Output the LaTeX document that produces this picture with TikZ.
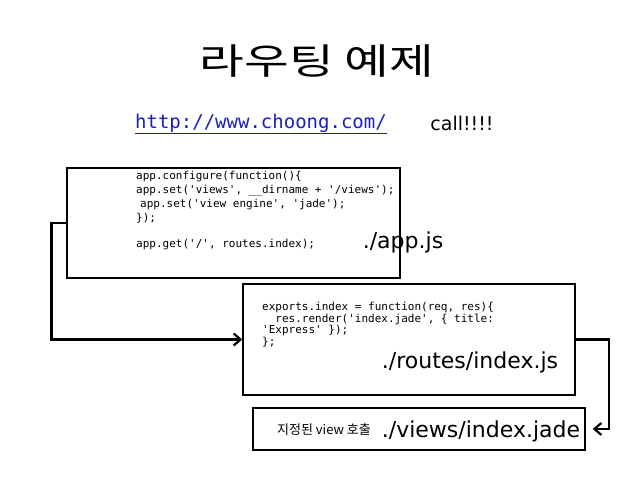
\documentclass[tikz,border=0pt]{standalone}
\usepackage{fontspec}
\usetikzlibrary{arrows.meta}
\newfontfamily\krfont{Noto Sans CJK KR}
\newfontfamily\krtitle[FakeStretch=1.35]{Noto Sans CJK KR}
\newfontfamily\codefont{DejaVu Sans Mono}
\newfontfamily\handfont{DejaVu Sans}
\newfontfamily\urlfont{DejaVu Sans Mono}
\definecolor{urlblue}{RGB}{30,30,190}
\begin{document}
\begin{tikzpicture}[x=1pt, y=1pt,
  codebox/.style={draw, line width=1.4pt, inner sep=0pt},
  code/.style={anchor=north west, align=left, inner sep=0pt},
  fname/.style={inner sep=0pt, font=\fontsize{22}{24}\handfont},
  conn/.style={line width=2.4pt, -{Straight Barb[length=7pt, width=12pt, line width=2.2pt]}}]
\useasboundingbox (0,0) rectangle (638,479);
\node[inner sep=0pt, font=\fontsize{36}{40}\krtitle] (title) at (317,418) {라우팅 예제};
\node[inner sep=0pt, text=urlblue, font=\fontsize{19}{22}\urlfont] (url) at (261,355) {\underline{http://www.choong.com/}};
\node[inner sep=0pt, font=\fontsize{19}{22}\handfont] (call) at (462,356) {call!!!!};
% boxes
\node[codebox, minimum width=333pt, minimum height=110pt] (app) at (233.5,256) {};
\node[codebox, minimum width=332pt, minimum height=111pt] (routes) at (409,139.5) {};
\node[codebox, minimum width=332pt, minimum height=42pt] (views) at (419,50) {};
% code
\node[code, font=\fontsize{11}{14}\codefont] (appcode) at (136,308.5) {app.configure(function()\{\\app.set('views', \_\_dirname + '/views');\\\hspace*{4pt}app.set('view engine', 'jade');\\\});\\[12pt]app.get('/', routes.index);};
\node[code, font=\fontsize{11}{11.7}\codefont] (routescode) at (262,177) {exports.index = function(req, res)\{\\\ \ res.render('index.jade', \{ title:\\'Express' \});\\\};};
% file names
\node[fname] (appjs) at (403,237) {./app.js};
\node[fname] (routesjs) at (470,117) {./routes/index.js};
\node[inner sep=0pt, font=\fontsize{13}{15}\krfont] (call2) at (324,49) {지정된 view 호출};
\node[fname] (viewsjade) at (481,48) {./views/index.jade};
% connectors
\draw[conn] (app.west) -- ++(-15,0) |- (routes.west);
\draw[conn, shorten >=7pt] (routes.east) -- ++(33,0) |- (views.east);
\end{tikzpicture}
\end{document}
